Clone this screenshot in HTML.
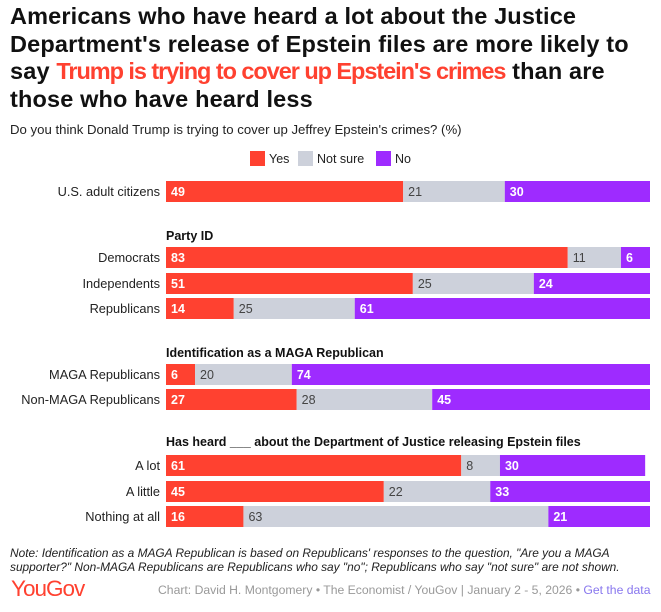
<!DOCTYPE html>
<html><head><meta charset="utf-8"><style>
body{margin:0;width:661px;height:612px;background:#fff;font-family:"Liberation Sans",sans-serif;overflow:hidden;position:relative}
.t{position:absolute;left:10px;top:3px;font-size:23.5px;font-weight:bold;line-height:27.5px;color:#111;letter-spacing:0.15px;white-space:nowrap}
.t span{color:#ff4130;letter-spacing:-1.05px}
.sub{position:absolute;left:10px;top:122px;font-size:13.2px;color:#222}
.note{position:absolute;left:10px;top:546px;font-size:11.9px;font-style:italic;color:#222;line-height:14px;white-space:nowrap}
.logo{position:absolute;left:11px;top:576px;font-size:22.5px;color:#ff4130;letter-spacing:-1px}
.cred{position:absolute;left:158px;top:583px;font-size:12.2px;color:#999}
.cred a{color:#8877ee}
</style></head><body>
<div class="t">Americans who have heard a lot about the Justice<br>Department's release of Epstein files are more likely to<br>say <span>Trump is trying to cover up Epstein's crimes</span> than are<br>those who have heard less</div>
<div class="sub">Do you think Donald Trump is trying to cover up Jeffrey Epstein's crimes? (%)</div>
<svg id="c" width="661" height="612" style="position:absolute;left:0;top:0"></svg>
<div class="note">Note: Identification as a MAGA Republican is based on Republicans' responses to the question, "Are you a MAGA<br>supporter?" Non-MAGA Republicans are Republicans who say "no"; Republicans who say "not sure" are not shown.</div>
<div class="logo">YouGov</div>
<div class="cred">Chart: David H. Montgomery • The Economist / YouGov | January 2 - 5, 2026 • <a>Get the data</a></div>
<script>
const categories=["U.S. adult citizens","Democrats","Independents","Republicans","MAGA Republicans","Non-MAGA Republicans","A lot","A little","Nothing at all"];
const yesValues=[49,83,51,14,6,27,61,45,16];
const notSureValues=[21,11,25,25,20,28,8,22,63];
const noValues=[30,6,24,61,74,45,30,33,21];
const seriesNames=["Yes","Not sure","No"];
const groupHeaders=["Party ID","Identification as a MAGA Republican","Has heard ___ about the Department of Justice releasing Epstein files"];
const rowTops=[181,247,273,298,364,389,455,481,506];
const headerY=[240,357,446];
const legendX=[250,298,376];
const colors=["#ff4130","#cdd1db","#9e2bff"];
const x0=166,x1=650;
const xs=v=>x0+v/100*(x1-x0);
const svg=document.getElementById('c');
const NS="http://www.w3.org/2000/svg";
function el(t,a){const e=document.createElementNS(NS,t);for(const k in a)e.setAttribute(k,a[k]);svg.appendChild(e);return e;}
seriesNames.forEach((n,i)=>{
 const lx=legendX[i];
 const r=el('rect',{x:lx,y:151,width:15,height:15,fill:colors[i]});
 
 
 const t=el('text',{x:lx+19,y:163,'font-size':12.5,fill:'#222'});t.textContent=n;
 
 
});
groupHeaders.forEach((h,i)=>{
 const t=el('text',{x:x0,y:headerY[i],'font-size':12.5,'font-weight':'bold',fill:'#111'});t.textContent=h;
 
 
});
categories.forEach((c,i)=>{
 const y=rowTops[i],h=21;
 const lab=el('text',{x:x0-6,y:y+15,'font-size':12.8,'text-anchor':'end',fill:'#222'});lab.textContent=c;
 
 
 const vals=[yesValues[i],notSureValues[i],noValues[i]];
 let acc=0;
 vals.forEach((v,j)=>{
  const r=el('rect',{x:xs(acc),y:y,width:xs(acc+v)-xs(acc),height:h,fill:colors[j]});
  
  
  const t=el('text',{x:xs(acc)+5,y:y+15,'font-size':12.5,'font-weight':j==1?'normal':'bold',fill:j==1?'#444':'#fff'});t.textContent=v;
  
  
  acc+=v;
 });
});
</script>
</body></html>
